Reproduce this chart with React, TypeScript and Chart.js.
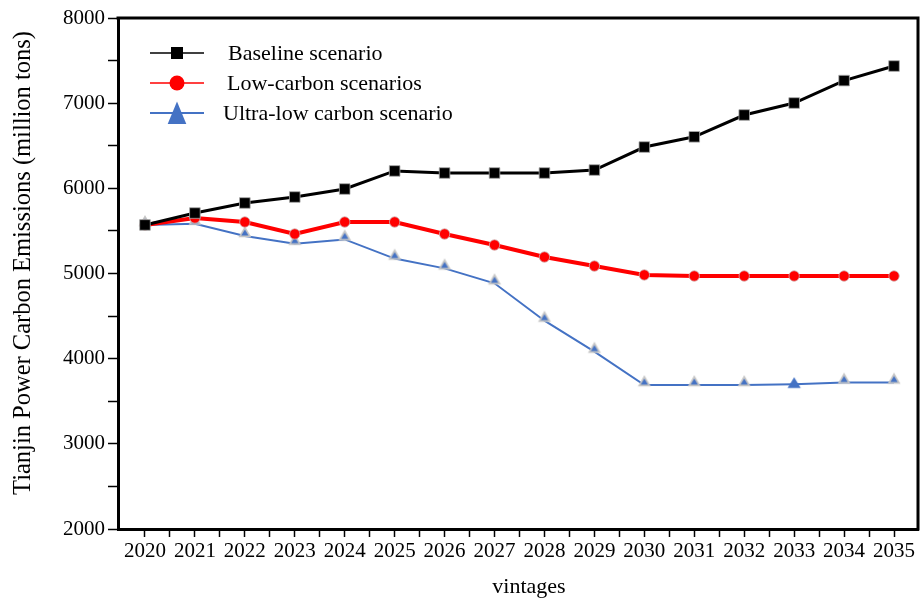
import React, { useEffect, useRef } from 'react';
import { Chart, registerables } from 'chart.js';

Chart.register(...registerables);

// ---- data ----
const years = [2020, 2021, 2022, 2023, 2024, 2025, 2026, 2027, 2028, 2029, 2030, 2031, 2032, 2033, 2034, 2035];
const baseline = [5570, 5710, 5828, 5898, 5992, 6204, 6180, 6180, 6180, 6215, 6485, 6605, 6861, 7002, 7265, 7436];
const lowCarbon = [5570, 5652, 5605, 5464, 5605, 5605, 5464, 5335, 5194, 5088, 4983, 4971, 4971, 4971, 4971, 4971];
const ultraLow = [5570, 5585, 5440, 5350, 5400, 5175, 5060, 4885, 4446, 4082, 3690, 3690, 3690, 3700, 3720, 3720];
const seriesNames = ['Baseline scenario', 'Low-carbon scenarios', 'Ultra-low carbon scenario'];
const yTickValues = [2000, 2500, 3000, 3500, 4000, 4500, 5000, 5500, 6000, 6500, 7000, 7500, 8000];
const yLabelStep = 1000;
const highlightYear = 2033;
const yTitle = 'Tianjin Power Carbon Emissions (million tons)';
const xTitle = 'vintages';

const FONT = '"Liberation Serif", "Times New Roman", serif';
const BLUE = '#4472c4';
const X_MIN = 2019.46;
const X_MAX = 2035.48;

function makeSmallTri(): HTMLCanvasElement {
  const c = document.createElement('canvas');
  c.width = 16;
  c.height = 22;
  const g = c.getContext('2d')!;
  // point centre is (8, 11)
  g.fillStyle = '#c6c6c6';
  g.beginPath();
  g.moveTo(1.5, 12.2);
  g.lineTo(14.5, 12.2);
  g.lineTo(8, 1);
  g.closePath();
  g.fill();
  g.fillStyle = BLUE;
  g.beginPath();
  g.moveTo(4.3, 10.6);
  g.lineTo(11.7, 10.6);
  g.lineTo(8, 4.6);
  g.closePath();
  g.fill();
  return c;
}

function makeBigTri(): HTMLCanvasElement {
  const c = document.createElement('canvas');
  c.width = 16;
  c.height = 22;
  const g = c.getContext('2d')!;
  g.fillStyle = BLUE;
  g.beginPath();
  g.moveTo(1.4, 14.8);
  g.lineTo(14.6, 14.8);
  g.lineTo(8, 4);
  g.closePath();
  g.fill();
  return c;
}

const framePlugin = {
  id: 'frameAndText',
  afterDraw(chart: any) {
    const { ctx, chartArea } = chart;
    const { left, right, top, bottom } = chartArea;
    ctx.save();
    // top and right frame
    ctx.strokeStyle = '#000';
    ctx.lineWidth = 3;
    ctx.beginPath();
    ctx.moveTo(left - 1.5, top);
    ctx.lineTo(right, top);
    ctx.lineTo(right, bottom + 1.5);
    ctx.stroke();

    // axis titles
    ctx.fillStyle = '#000';
    ctx.textAlign = 'center';
    ctx.textBaseline = 'middle';
    ctx.font = `22px ${FONT}`;
    ctx.fillText(xTitle, 529, 587);
    ctx.save();
    ctx.translate(24, 263);
    ctx.rotate(-Math.PI / 2);
    ctx.font = `24.5px ${FONT}`;
    ctx.fillText(yTitle, 0, 0);
    ctx.restore();

    // legend
    const rows = [
      { y: 53, tx: 228 },
      { y: 83, tx: 227 },
      { y: 113, tx: 223 },
    ];
    const ds = chart.data.datasets;
    rows.forEach((r, i) => {
      const color = ds[i].borderColor;
      ctx.strokeStyle = color;
      ctx.lineWidth = i === 2 ? 2 : 1.3;
      ctx.beginPath();
      ctx.moveTo(150, r.y);
      ctx.lineTo(204, r.y);
      ctx.stroke();
      ctx.fillStyle = color;
      const cx = 177;
      if (i === 0) {
        ctx.fillRect(cx - 6, r.y - 6, 12, 12);
      } else if (i === 1) {
        ctx.beginPath();
        ctx.arc(cx, r.y, 7.5, 0, Math.PI * 2);
        ctx.fill();
      } else {
        ctx.beginPath();
        ctx.moveTo(cx - 9.3, r.y + 11);
        ctx.lineTo(cx + 9.3, r.y + 11);
        ctx.lineTo(cx, r.y - 11.5);
        ctx.closePath();
        ctx.fill();
      }
      ctx.fillStyle = '#000';
      ctx.textAlign = 'left';
      ctx.textBaseline = 'middle';
      ctx.font = `22px ${FONT}`;
      ctx.fillText(seriesNames[i], r.tx, r.y + 1);
    });
    ctx.restore();
  },
};

export default function App() {
  const canvasRef = useRef<HTMLCanvasElement | null>(null);

  useEffect(() => {
    const canvas = canvasRef.current;
    if (!canvas) return;
    const smallTri = makeSmallTri();
    const bigTri = makeBigTri();
    const xTickValues = years.flatMap((y) => [y, y + 0.5]).filter((v) => v <= X_MAX);
    const toPts = (arr: number[]) => arr.map((v, i) => ({ x: years[i], y: v }));

    const chart = new Chart(canvas, {
      type: 'line',
      data: {
        datasets: [
          {
            label: seriesNames[0],
            data: toPts(baseline),
            borderColor: '#000000',
            backgroundColor: '#000000',
            borderWidth: 3,
            pointStyle: 'rect',
            pointRadius: 7.5,
            pointBackgroundColor: '#000000',
            pointBorderColor: 'rgba(170,170,170,0.8)',
            pointBorderWidth: 1,
            tension: 0,
          },
          {
            label: seriesNames[1],
            data: toPts(lowCarbon),
            borderColor: '#ff0000',
            backgroundColor: '#ff0000',
            borderWidth: 4,
            pointStyle: 'circle',
            pointRadius: 5.2,
            pointBackgroundColor: '#ff0000',
            pointBorderColor: 'rgba(205,175,175,0.8)',
            pointBorderWidth: 1,
            tension: 0,
          },
          {
            label: seriesNames[2],
            data: toPts(ultraLow),
            borderColor: BLUE,
            backgroundColor: BLUE,
            borderWidth: 2,
            pointStyle: (c: any) => (years[c.dataIndex] === highlightYear ? bigTri : smallTri),
            pointRadius: 7,
            tension: 0,
          },
        ],
      },
      options: {
        responsive: false,
        animation: false,
        devicePixelRatio: 1,
        layout: { autoPadding: false, padding: { top: 18, right: 3, left: 0, bottom: 0 } },
        plugins: {
          legend: { display: false },
          tooltip: { enabled: false },
        },
        scales: {
          x: {
            type: 'linear',
            min: X_MIN,
            max: X_MAX,
            afterBuildTicks: (scale: any) => {
              scale.ticks = xTickValues.map((v) => ({ value: v }));
            },
            afterFit: (scale: any) => {
              scale.height = 73;
              scale.paddingLeft = 0;
              scale.paddingRight = 0;
            },
            ticks: {
              autoSkip: false,
              maxRotation: 0,
              minRotation: 0,
              padding: 2,
              color: '#000',
              font: { family: FONT, size: 21 },
              callback: (v: any) => (Number.isInteger(v) ? String(v) : ''),
            },
            grid: {
              drawOnChartArea: false,
              drawTicks: true,
              tickLength: 8,
              tickWidth: 1.5,
              color: '#000',
            },
            border: { display: true, color: '#000', width: 3 },
          },
          y: {
            type: 'linear',
            min: 2000,
            max: 8000,
            afterBuildTicks: (scale: any) => {
              scale.ticks = yTickValues.map((v) => ({ value: v }));
            },
            afterFit: (scale: any) => {
              scale.width = 118;
              scale.paddingTop = 0;
              scale.paddingBottom = 0;
            },
            ticks: {
              autoSkip: false,
              padding: 3,
              color: '#000',
              font: { family: FONT, size: 21 },
              callback: (v: any) => (v % yLabelStep === 0 ? String(v) : ''),
            },
            grid: {
              drawOnChartArea: false,
              drawTicks: true,
              tickLength: 10,
              tickWidth: 1.5,
              color: '#000',
            },
            border: { display: true, color: '#000', width: 3 },
          },
        },
      } as any,
      plugins: [framePlugin],
    });

    return () => {
      chart.destroy();
    };
  }, []);

  return (
    <div style={{ position: 'absolute', left: 0, top: 0, width: 921, height: 602, background: '#fff' }}>
      <canvas ref={canvasRef} width={921} height={602} style={{ display: 'block' }} />
    </div>
  );
}
